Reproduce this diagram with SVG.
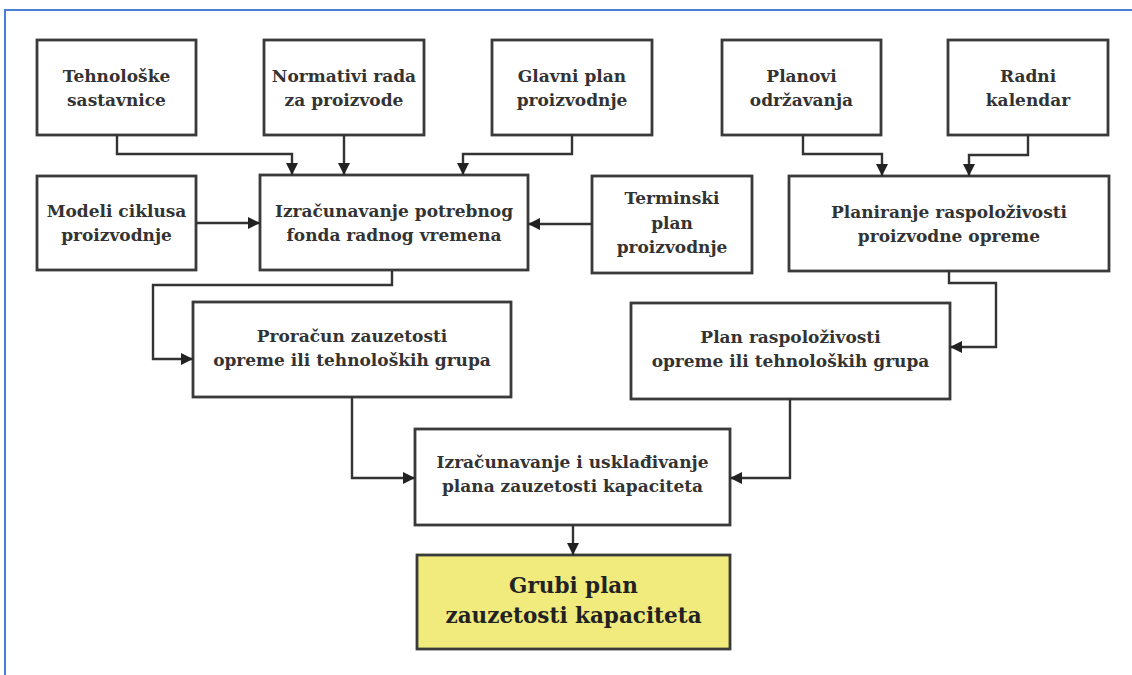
<svg xmlns="http://www.w3.org/2000/svg" width="1132" height="675" viewBox="0 0 1132 675">
<style>
.box{fill:#fff;stroke:#3a3a3a;stroke-width:2.8}
.hl{fill:#f0eb7c}
.t{font-family:"DejaVu Serif","Liberation Serif",serif;font-weight:bold;font-size:17px;fill:#333;text-anchor:middle}
.big{font-size:21.5px;fill:#222}
.c{fill:none;stroke:#333;stroke-width:2.4}
</style>
<defs>
<marker id="ah" viewBox="0 0 10 10" refX="10" refY="5" markerWidth="12" markerHeight="12" markerUnits="userSpaceOnUse" orient="auto">
<path d="M0,0 L10,5 L0,10 Z" fill="#222"/>
</marker>
</defs>
<rect width="1132" height="675" fill="#fff"/>
<path d="M5,675 V10 H1132" fill="none" stroke="#4a7fd6" stroke-width="2"/>

<g id="n-tehnoloske"><rect class="box" x="37" y="40" width="159" height="95"/>
<text class="t" x="116.5" y="81.5">Tehnološke</text><text class="t" x="116.5" y="105.5">sastavnice</text></g>
<g id="n-normativi"><rect class="box" x="264" y="40" width="160" height="95"/>
<text class="t" x="344" y="81.5">Normativi rada</text><text class="t" x="344" y="105.5">za proizvode</text></g>
<g id="n-glavni"><rect class="box" x="492" y="40" width="160" height="95"/>
<text class="t" x="572" y="81.5">Glavni plan</text><text class="t" x="572" y="105.5">proizvodnje</text></g>
<g id="n-planovi"><rect class="box" x="722" y="40" width="159" height="95"/>
<text class="t" x="801.5" y="81.5">Planovi</text><text class="t" x="801.5" y="105.5">održavanja</text></g>
<g id="n-radni"><rect class="box" x="948" y="40" width="160" height="95"/>
<text class="t" x="1028" y="81.5">Radni</text><text class="t" x="1028" y="105.5">kalendar</text></g>

<g id="n-modeli"><rect class="box" x="37" y="176" width="159" height="94"/>
<text class="t" x="116.5" y="217">Modeli ciklusa</text><text class="t" x="116.5" y="241">proizvodnje</text></g>
<g id="n-izracunavanje"><rect class="box" x="260" y="175" width="268" height="95"/>
<text class="t" x="394" y="216.5">Izračunavanje potrebnog</text><text class="t" x="394" y="240.5">fonda radnog vremena</text></g>
<g id="n-terminski"><rect class="box" x="592" y="176" width="160" height="97"/>
<text class="t" x="672" y="204">Terminski</text><text class="t" x="672" y="228.5">plan</text><text class="t" x="672" y="253">proizvodnje</text></g>
<g id="n-planiranje"><rect class="box" x="789" y="176" width="320" height="95"/>
<text class="t" x="949" y="217.5">Planiranje raspoloživosti</text><text class="t" x="949" y="241.5">proizvodne opreme</text></g>

<g id="n-proracun"><rect class="box" x="193" y="302" width="318" height="95"/>
<text class="t" x="352" y="342">Proračun zauzetosti</text><text class="t" x="352" y="366">opreme ili tehnoloških grupa</text></g>
<g id="n-plan"><rect class="box" x="631" y="303" width="319" height="96"/>
<text class="t" x="790.5" y="343">Plan raspoloživosti</text><text class="t" x="790.5" y="367">opreme ili tehnoloških grupa</text></g>

<g id="n-uskladivanje"><rect class="box" x="415" y="429" width="315" height="96"/>
<text class="t" x="572.5" y="468">Izračunavanje i usklađivanje</text><text class="t" x="572.5" y="492">plana zauzetosti kapaciteta</text></g>
<g id="n-grubi"><rect class="box hl" x="417" y="555" width="313" height="94"/>
<text class="t big" x="573.5" y="593">Grubi plan</text><text class="t big" x="573.5" y="623">zauzetosti kapaciteta</text></g>

<g id="connectors">
<path class="c" d="M117,135 V154 H292 V175" marker-end="url(#ah)"/>
<path class="c" d="M344,135 V175" marker-end="url(#ah)"/>
<path class="c" d="M572,135 V154 H463 V175" marker-end="url(#ah)"/>
<path class="c" d="M803,135 V154 H882 V176" marker-end="url(#ah)"/>
<path class="c" d="M1028,135 V155 H969 V176" marker-end="url(#ah)"/>
<path class="c" d="M196,223 H260" marker-end="url(#ah)"/>
<path class="c" d="M592,224 H528" marker-end="url(#ah)"/>
<path class="c" d="M392,270 V285 H153 V359 H193" marker-end="url(#ah)"/>
<path class="c" d="M949,271 V283 H996 V347 H950" marker-end="url(#ah)"/>
<path class="c" d="M352,397 V478 H415" marker-end="url(#ah)"/>
<path class="c" d="M790,399 V478 H730" marker-end="url(#ah)"/>
<path class="c" d="M573,525 V555" marker-end="url(#ah)"/>
</g>
</svg>
